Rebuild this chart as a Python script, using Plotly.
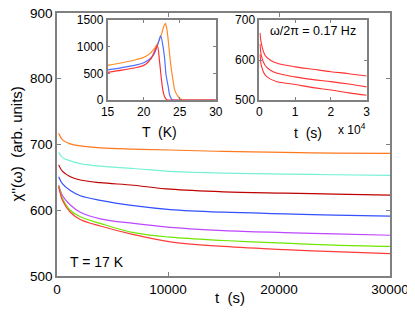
import plotly.graph_objects as go

# ---------------- data ----------------
t_main = [150, 500, 1200, 2100, 3900, 6900, 10200, 15000, 20500, 25000, 30000]
chi_orange = [717, 707, 701, 698, 695, 693, 691.6, 689.5, 688, 687, 686.5]
chi_cyan = [688, 680, 675, 671, 667, 663.5, 659, 656.5, 655, 654, 653]
chi_darkred = [669, 659, 651, 646, 642, 638, 632, 628, 626, 624.5, 623]
chi_blue = [651, 640, 630, 622, 615, 607, 601, 597, 594.5, 592.5, 591]
chi_purple = [638, 622, 608, 597, 587, 580, 574, 569, 566, 564, 562]
chi_green = [637, 618, 600, 590, 580, 566, 559, 554, 550, 547, 545]
chi_red = [636, 615, 597, 586, 576, 563, 552, 545, 540, 537, 534]

T_red = [15, 17, 19, 20, 20.6, 21, 21.3, 21.6, 21.9, 22.2, 22.45, 22.65, 22.9, 23.2, 23.5, 30]
in_red = [520, 560, 610, 650, 710, 770, 850, 950, 1018, 720, 400, 190, 60, 5, 0, 0]
T_blue = [15, 17, 19, 20, 21, 21.5, 22, 22.35, 22.65, 22.9, 23.1, 23.4, 23.6, 23.9, 24.3, 30]
in_blue = [567, 610, 660, 700, 790, 880, 1060, 1206, 1030, 780, 470, 250, 95, 10, 0, 0]
T_orange = [15, 17, 19, 20, 21, 22, 22.5, 22.75, 23.0, 23.2, 23.4, 23.6, 23.85, 24.1, 24.3, 24.8, 25.3, 26, 30]
in_orange = [649, 700, 760, 800, 890, 1080, 1250, 1370, 1437, 1340, 1125, 844, 562, 344, 187, 62, 5, 0, 0]

t_in2 = [200, 600, 1600, 3000, 5000, 10000, 15000, 20000, 25000, 30000]
in2_top = [668, 640, 612, 600, 592, 583, 577, 571, 566, 560]
in2_mid = [640, 610, 587, 575, 567, 558, 551, 546, 540, 533]
in2_bot = [615, 585, 563, 553, 546, 539, 531, 525, 518, 512]

main_xticks = [0, 10000, 20000, 30000]
main_xticklabels = ["0", "10000", "20000", "30000"]
main_yticks = [500, 600, 700, 800, 900]
in1_xticks = [15, 20, 25, 30]
in1_yticks = [0, 500, 1000, 1500]
in2_xticks = [0, 10000, 20000, 30000]
in2_xticklabels = ["0", "1", "2", "3"]
in2_yticks = [500, 600, 700]

# ---------------- figure ----------------
FONT = "Liberation Sans, Arial, sans-serif"
GRAY = "rgb(128,128,128)"

fig = go.Figure()

main_series = [
    (chi_orange, "rgb(255,120,30)"),
    (chi_cyan, "rgb(120,240,215)"),
    (chi_darkred, "rgb(190,0,0)"),
    (chi_blue, "rgb(50,80,255)"),
    (chi_purple, "rgb(190,70,255)"),
    (chi_green, "rgb(110,230,0)"),
    (chi_red, "rgb(255,60,60)"),
]
for ys, c in main_series:
    fig.add_trace(go.Scatter(x=t_main, y=ys, mode="lines", line=dict(color=c, width=1.2, shape="spline"),
                             xaxis="x", yaxis="y", showlegend=False))

for xs, ys, c in [(T_orange, in_orange, "rgb(255,140,40)"), (T_blue, in_blue, "rgb(80,110,255)"),
                  (T_red, in_red, "rgb(255,50,50)")]:
    fig.add_trace(go.Scatter(x=xs, y=ys, mode="lines", line=dict(color=c, width=1.2, shape="spline", smoothing=0.8),
                             xaxis="x2", yaxis="y2", showlegend=False))

for ys in [in2_top, in2_mid, in2_bot]:
    fig.add_trace(go.Scatter(x=t_in2, y=ys, mode="lines", line=dict(color="rgb(255,50,50)", width=1.1, shape="spline"),
                             xaxis="x3", yaxis="y3", showlegend=False))

ax_common = dict(showline=True, mirror="ticks", linecolor=GRAY, linewidth=1.5, ticks="inside",
                 ticklen=4, tickcolor=GRAY, showgrid=False, zeroline=False, automargin=False,
                 ticklabeloverflow="allow",
                 tickfont=dict(family=FONT, size=13.5, color="black"))
in_common = dict(ax_common, tickfont=dict(family=FONT, size=12, color="black"), ticklen=3)

# page body has an 8px margin: figure is offset by (8, 8) in the window
fig.update_layout(
    template="none",
    width=407, height=304,
    margin=dict(l=49, r=25, t=5, b=36, autoexpand=False),
    paper_bgcolor="white", plot_bgcolor="white",
    font=dict(family=FONT, color="black"),
    xaxis=dict(ax_common, range=[0, 30000], tickvals=main_xticks, ticktext=main_xticklabels, domain=[0, 1]),
    yaxis=dict(ax_common, range=[500, 900], tickvals=main_yticks, domain=[0, 1]),
    xaxis2=dict(in_common, range=[15, 30], tickvals=in1_xticks, domain=[0.152, 0.477], anchor="y2"),
    yaxis2=dict(in_common, range=[0, 1500], tickvals=in1_yticks, domain=[0.669, 0.973], anchor="x2"),
    xaxis3=dict(in_common, range=[0, 30000], tickvals=in2_xticks, ticktext=in2_xticklabels,
                domain=[0.6075, 0.930], anchor="y3"),
    yaxis3=dict(in_common, range=[500, 700], tickvals=in2_yticks, domain=[0.669, 0.973], anchor="x3"),
)

# annotation positions given in window pixels (plot area: x 57..390, y 13..276)
ann = [
    dict(text="χ''(ω)  (arb. units)", x=16, y=144.5, textangle=-90, size=15),
    dict(text="t  (s)", x=230, y=297, size=15),
    dict(text="T = 17 K", x=97, y=262, size=14),
    dict(text="T  (K)", x=159, y=132, size=14),
    dict(text="t  (s)", x=308, y=133, size=14),
    dict(text="x 10<sup>4</sup>", x=352, y=129, size=12),
    dict(text="ω/2π = 0.17 Hz", x=313, y=31, size=12.5),
]
for a in ann:
    fig.add_annotation(text=a["text"], xref="paper", yref="paper",
                       x=(a["x"] - 57) / 333,
                       y=(276 - a["y"]) / 263,
                       xanchor="center", yanchor="middle", showarrow=False,
                       textangle=a.get("textangle", 0),
                       font=dict(family=FONT, size=a["size"], color="black"))

fig.write_html("out.html")
